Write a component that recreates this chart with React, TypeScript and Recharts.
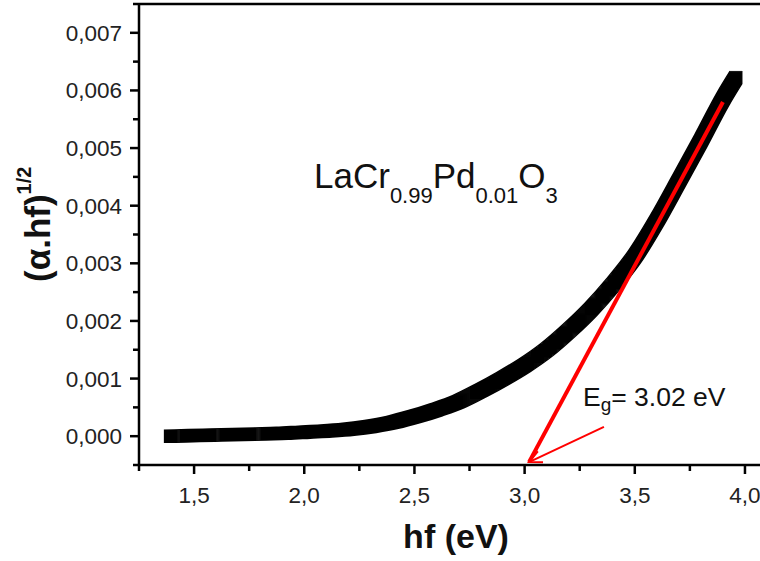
import { ComposedChart, Line, XAxis, YAxis, ReferenceLine } from 'recharts';

// (α.hf)^1/2 absorption curve for LaCr0.99Pd0.01O3
const hfValues = [
  1.39, 1.5, 1.6, 1.7, 1.8, 1.9, 2.0, 2.1, 2.2, 2.3, 2.4, 2.5, 2.6, 2.7,
  2.8, 2.9, 3.0, 3.1, 3.2, 3.3, 3.4, 3.5, 3.6, 3.7, 3.8, 3.9, 3.96,
];
const absValues = [
  0.0, 0.00001, 0.00002, 0.00003, 0.00004, 0.00005, 0.00007, 0.00009,
  0.00012, 0.00017, 0.00024, 0.00034, 0.00046, 0.0006, 0.00079, 0.001,
  0.00123, 0.0015, 0.00183, 0.0022, 0.00263, 0.00312, 0.00374, 0.00443,
  0.00513, 0.00585, 0.00623,
];

// linear fit of the absorption edge and the arrow pointing at Eg
const fitLine = [
  { x: 3.02, y: -0.00045 },
  { x: 3.9, y: 0.0058 },
];
const egArrow = [
  { x: 3.36, y: 0.00016 },
  { x: 3.02, y: -0.00045 },
];

const xTicks = [1.25, 1.5, 1.75, 2.0, 2.25, 2.5, 2.75, 3.0, 3.25, 3.5, 3.75, 4.0];
const xLabels: Record<string, string> = {
  '1.50': '1,5', '2.00': '2,0', '2.50': '2,5', '3.00': '3,0', '3.50': '3,5', '4.00': '4,0',
};
const yTicks = [
  -0.0005, 0, 0.0005, 0.001, 0.0015, 0.002, 0.0025, 0.003, 0.0035, 0.004,
  0.0045, 0.005, 0.0055, 0.006, 0.0065, 0.007, 0.0075,
];
const yLabels: Record<string, string> = {
  '0.0000': '0,000', '0.0010': '0,001', '0.0020': '0,002', '0.0030': '0,003',
  '0.0040': '0,004', '0.0050': '0,005', '0.0060': '0,006', '0.0070': '0,007',
};

const curveData = hfValues.map((x, i) => ({ x, y: absValues[i] }));

const FONT = '"Liberation Sans", Arial, sans-serif';

const XTick = (props: any) => {
  const { x, y, payload } = props;
  const label = xLabels[Number(payload.value).toFixed(2)];
  return (
    <g>
      <line x1={x} y1={y} x2={x} y2={y + (label ? 9 : 6)} stroke="#000" strokeWidth={2.5} />
      {label && (
        <text x={x} y={y + 38} textAnchor="middle" fontSize={22.5} fontFamily={FONT} fill="#222">
          {label}
        </text>
      )}
    </g>
  );
};

const YTick = (props: any) => {
  const { x, y, payload } = props;
  const label = yLabels[Number(payload.value).toFixed(4)];
  return (
    <g>
      <line x1={x} y1={y} x2={x - (label ? 9 : 6)} y2={y} stroke="#000" strokeWidth={2.5} />
      {label && (
        <text x={x - 17} y={y + 8} textAnchor="end" fontSize={22.5} fontFamily={FONT} fill="#222">
          {label}
        </text>
      )}
    </g>
  );
};

// thin arrow with an open head at the end point
const ArrowShape = (props: any) => {
  const { x1, y1, x2, y2 } = props;
  const ang = Math.atan2(y2 - y1, x2 - x1);
  const len = 14;
  const spread = 0.45;
  const ax = x2 - len * Math.cos(ang - spread);
  const ay = y2 - len * Math.sin(ang - spread);
  const bx = x2 - len * Math.cos(ang + spread);
  const by = y2 - len * Math.sin(ang + spread);
  return (
    <g>
      <line x1={x1} y1={y1} x2={x2} y2={y2} stroke="#ff0000" strokeWidth={2} />
      <polyline points={`${ax},${ay} ${x2},${y2} ${bx},${by}`} fill="none" stroke="#ff0000" strokeWidth={2} />
    </g>
  );
};

export default function App() {
  return (
    <div style={{ position: 'absolute', left: 0, top: 0, width: 760, height: 561, overflow: 'hidden', background: '#fff' }}>
      <ComposedChart
        width={800}
        height={561}
        data={curveData}
        margin={{ top: 4, right: 33, left: 39, bottom: 56 }}
      >
        <defs>
          {/* square-marker look: dilate a thin path with a square kernel */}
          <filter id="squareMarks" filterUnits="userSpaceOnUse" x={0} y={0} width={800} height={561}>
            <feMorphology operator="dilate" radius={5.5} />
          </filter>
        </defs>
        <style>{`.abs-curve .recharts-line-curve { filter: url(#squareMarks); }`}</style>
        <XAxis
          type="number"
          dataKey="x"
          domain={[1.25, 4.1]}
          allowDataOverflow
          ticks={xTicks}
          interval={0}
          height={40}
          tickSize={0}
          tickMargin={0}
          tickLine={false}
          axisLine={{ stroke: '#000', strokeWidth: 2.5 }}
          tick={<XTick />}
        />
        <YAxis
          type="number"
          domain={[-0.0005, 0.0075]}
          allowDataOverflow
          ticks={yTicks}
          interval={0}
          width={100}
          tickSize={0}
          tickMargin={0}
          tickLine={false}
          axisLine={{ stroke: '#000', strokeWidth: 2.5 }}
          tick={<YTick />}
        />
        <ReferenceLine y={0.0075} stroke="#000" strokeWidth={2.5} ifOverflow="visible" />
        <Line
          className="abs-curve"
          type="monotone"
          dataKey="y"
          stroke="#000"
          strokeWidth={1.5}
          dot={false}
          activeDot={false}
          isAnimationActive={false}
        />
        <ReferenceLine
          segment={fitLine}
          stroke="#ff0000"
          strokeWidth={4}
          ifOverflow="visible"
        />
        <ReferenceLine
          segment={egArrow}
          ifOverflow="visible"
          shape={<ArrowShape />}
        />
        <text x={314} y={188} fontSize={35} fontFamily={FONT} fill="#111">
          LaCr
          <tspan dy={15} fontSize={22}>0.99</tspan>
          <tspan dy={-15} fontSize={35}>Pd</tspan>
          <tspan dy={15} fontSize={22}>0.01</tspan>
          <tspan dy={-15} fontSize={35}>O</tspan>
          <tspan dy={15} fontSize={22}>3</tspan>
        </text>
        <text x={583} y={406} fontSize={26.5} fontFamily={FONT} fill="#111">
          E
          <tspan dy={5} fontSize={19}>g</tspan>
          <tspan dy={-5}>= 3.02 eV</tspan>
        </text>
        <text x={456} y={548} textAnchor="middle" fontSize={34} fontWeight="bold" fontFamily={FONT} fill="#111">
          hf (eV)
        </text>
        <text
          x={50}
          y={282}
          transform="rotate(-90, 50, 282)"
          fontSize={35}
          fontWeight="bold"
          fontFamily={FONT}
          fill="#111"
        >
          (α.hf)
          <tspan dy={-19} fontSize={20}>1/2</tspan>
        </text>
      </ComposedChart>
    </div>
  );
}
